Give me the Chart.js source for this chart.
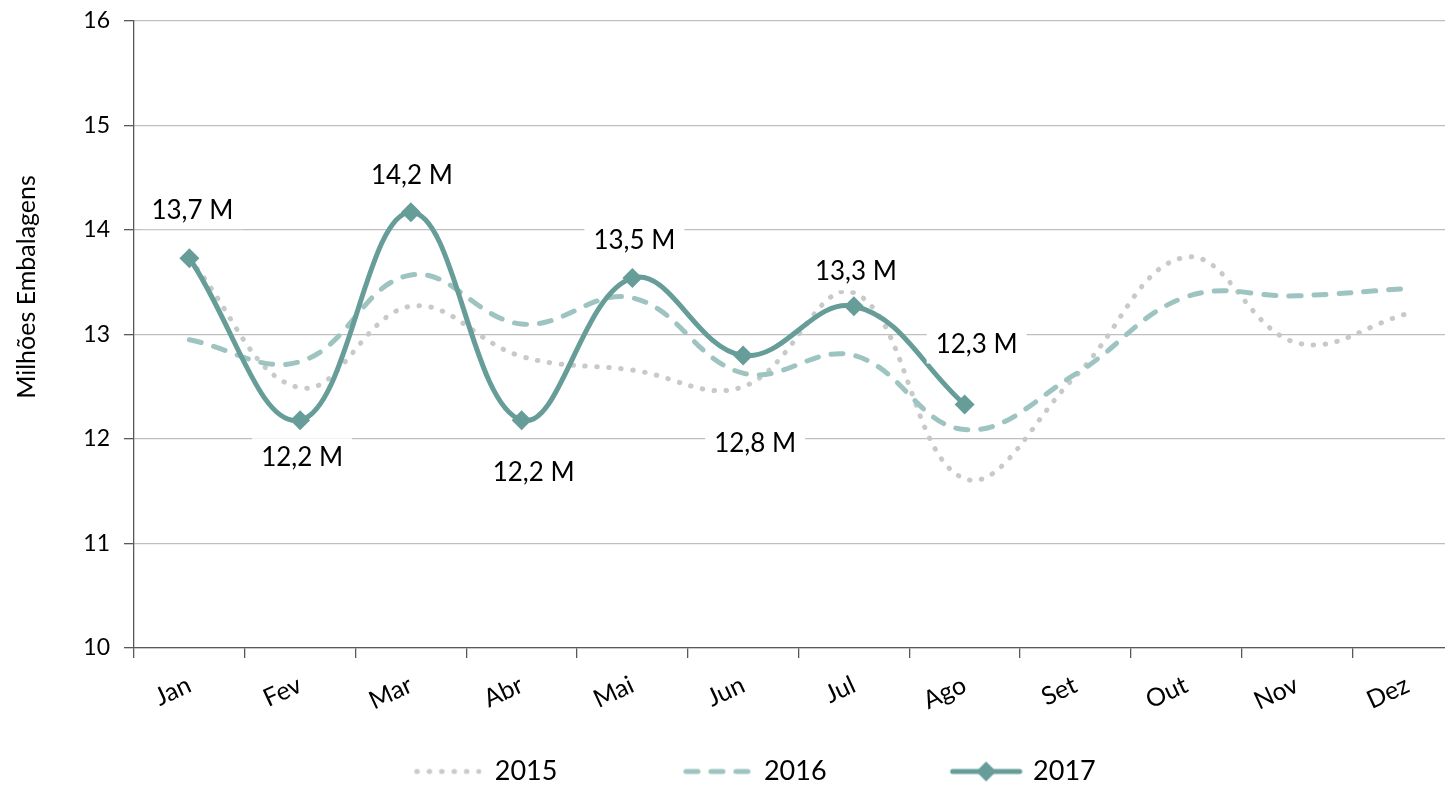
<!DOCTYPE html>
<html>
<head>
<meta charset="utf-8">
<script src="https://cdn.jsdelivr.net/npm/chart.js@4.4.1/dist/chart.umd.min.js"></script>
<style>
  html, body { margin: 0; padding: 0; background: #fff; overflow: hidden; width: 1445px; height: 785px; }
  #wrap { position: relative; width: 1480px; height: 795px; }
</style>
</head>
<body>
<div id="wrap"><canvas id="chart"></canvas></div>
<script>
// data (millions of packages)
const months = ['Jan', 'Fev', 'Mar', 'Abr', 'Mai', 'Jun', 'Jul', 'Ago', 'Set', 'Out', 'Nov', 'Dez'];
const v2015 = [13.72, 12.49, 13.27, 12.79, 12.66, 12.50, 13.40, 11.62, 12.60, 13.74, 12.92, 13.20];
const v2016 = [12.95, 12.74, 13.57, 13.10, 13.35, 12.63, 12.80, 12.09, 12.62, 13.36, 13.37, 13.44];
const v2017 = [13.73, 12.18, 14.17, 12.18, 13.54, 12.80, 13.27, 12.33, null, null, null, null];
const yTicks = [10, 11, 12, 13, 14, 15, 16];
const seriesNames = ['2015', '2016', '2017'];
const axisTitle = 'Milhões Embalagens';

const colors = ['#C6CBC9', '#9EC4C1', '#679D99'];
const FONT = 'Lato';

// where each 2017 value label sits relative to its marker (px)
const labelOffsets = [[3, -48], [2, 37], [1, -37], [12, 52], [2, -37], [12, 88], [2, -35], [12, -60]];

// legend layout: wide box, line sample at its right end
const LEG_BOX = 151, LEG_PAD = 42;

function sample(i) {
  const c = document.createElement('canvas');
  c.width = LEG_BOX + 6; c.height = 28;
  const g = c.getContext('2d');
  const end = LEG_BOX + 3, start = end - 67;
  g.lineWidth = 5;
  g.lineCap = 'round';
  g.strokeStyle = colors[i];
  if (i === 0) g.setLineDash([0.5, 11.9]);
  if (i === 1) g.setLineDash([12, 13]);
  g.beginPath();
  g.moveTo(i === 2 ? start : start + 2.5, 14);
  g.lineTo(i === 2 ? end : end - 2.5, 14);
  g.stroke();
  if (i === 2) {
    const m = (start + end) / 2;
    g.fillStyle = colors[2];
    g.beginPath();
    g.moveTo(m, 4); g.lineTo(m + 10, 14); g.lineTo(m, 24); g.lineTo(m - 10, 14);
    g.closePath();
    g.fill();
  }
  return c;
}
const samples = seriesNames.map((n, i) => sample(i));

const valueLabels = {
  id: 'valueLabels',
  afterDatasetsDraw(chart) {
    const meta = chart.getDatasetMeta(2);
    const ctx = chart.ctx;
    ctx.save();
    ctx.font = '26px ' + FONT;
    ctx.textAlign = 'center';
    ctx.textBaseline = 'middle';
    v2017.forEach((v, i) => {
      if (v == null) return;
      const pt = meta.data[i];
      const txt = v.toFixed(1).replace('.', ',') + ' M';
      const x = pt.x + labelOffsets[i][0];
      const y = pt.y + labelOffsets[i][1];
      const w = ctx.measureText(txt).width + 18;
      ctx.fillStyle = '#fff';
      ctx.fillRect(x - w / 2, y - 19, w, 38);
      ctx.fillStyle = '#000';
      ctx.fillText(txt, x, y);
    });
    ctx.restore();
  }
};

const sideTitle = {
  id: 'sideTitle',
  afterDraw(chart) {
    const ctx = chart.ctx;
    ctx.save();
    ctx.translate(27, 287);
    ctx.rotate(-Math.PI / 2);
    ctx.font = '25px ' + FONT;
    ctx.fillStyle = '#000';
    ctx.textAlign = 'center';
    ctx.textBaseline = 'middle';
    ctx.fillText(axisTitle, 0, 0);
    ctx.restore();
  }
};

new Chart(document.getElementById('chart'), {
  type: 'line',
  data: {
    labels: months,
    datasets: [
      { label: seriesNames[0], data: v2015, borderColor: colors[0], borderWidth: 5,
        borderDash: [0.5, 11.5], borderCapStyle: 'round', pointRadius: 0, tension: 0.4, order: 3 },
      { label: seriesNames[1], data: v2016, borderColor: colors[1], borderWidth: 5,
        borderDash: [12, 13], borderCapStyle: 'round', pointRadius: 0, tension: 0.4, order: 2 },
      { label: seriesNames[2], data: v2017, borderColor: colors[2], backgroundColor: colors[2],
        borderWidth: 5, pointStyle: 'rectRot', pointRadius: 10, pointBorderWidth: 0,
        pointHoverRadius: 10, tension: 0.4, order: 1 }
    ]
  },
  options: {
    responsive: true,
    maintainAspectRatio: false,
    animation: false,
    layout: { padding: { top: 21, right: 17, bottom: 0, left: -37 } },
    scales: {
      x: {
        offset: true,
        grid: { offset: true, drawOnChartArea: false, tickLength: 10, color: '#595959', tickColor: '#595959', lineWidth: 1.3 },
        border: { color: '#595959', width: 1.3 },
        ticks: { minRotation: 25, maxRotation: 25, autoSkip: false, padding: 12, color: '#000', font: { family: FONT, size: 25 } },
        afterFit: s => { s.height = 68; }
      },
      y: {
        min: 10,
        max: 16,
        afterBuildTicks: s => { s.ticks = yTicks.map(v => ({ value: v })); },
        grid: { color: '#BFBFBF', lineWidth: 1.3, tickLength: 10, tickColor: '#595959' },
        border: { color: '#595959', width: 1.3 },
        ticks: { padding: 14, color: '#000', font: { family: FONT, size: 23, lineHeight: 0.5 } },
        afterFit: s => { s.width = 171; }
      }
    },
    plugins: {
      legend: {
        position: 'bottom',
        labels: {
          usePointStyle: true,
          pointStyleWidth: LEG_BOX,
          padding: LEG_PAD,
          color: '#000',
          font: { family: FONT, size: 27 },
          generateLabels: () => seriesNames.map((n, i) => ({
            text: n, pointStyle: samples[i], fillStyle: 'transparent', strokeStyle: 'transparent',
            lineWidth: 0, hidden: false, datasetIndex: i, fontColor: '#000'
          }))
        }
      },
      tooltip: { enabled: false }
    }
  },
  plugins: [valueLabels, sideTitle]
});
</script>
</body>
</html>
